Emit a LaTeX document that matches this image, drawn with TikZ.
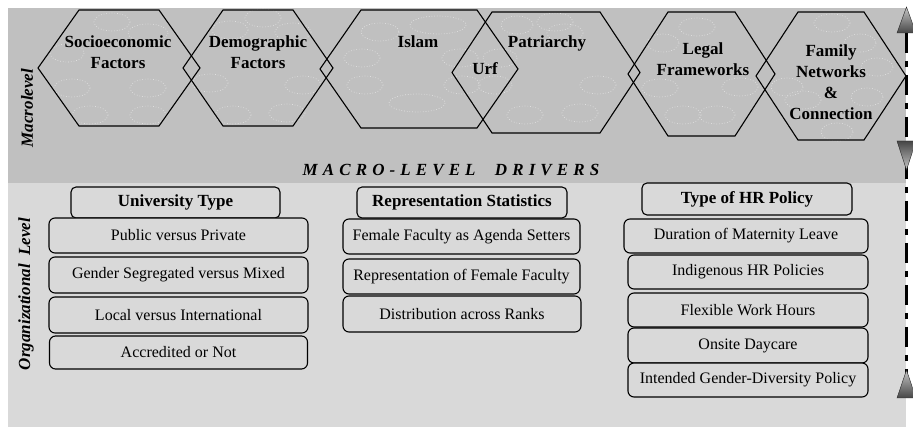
\documentclass[tikz,border=0pt]{standalone}
\usepackage{fontspec}
\setmainfont{Liberation Serif}
\definecolor{topgray}{HTML}{C0C0C0}
\definecolor{lowgray}{HTML}{D9D9D9}
\tikzset{
  hexline/.style={draw=black, line width=1.1pt, line join=miter},
  hexlabel/.style={font=\fontsize{17}{21}\selectfont\bfseries, align=center, inner sep=0pt},
  texture/.style={draw=white, dotted, line width=0.7pt, opacity=0.55},
  headbox/.style={draw=black, line width=1.1pt, rounded corners=5pt, fill=lowgray,
    font=\fontsize{17}{20}\selectfont\bfseries, inner sep=0pt, minimum height=31pt},
  itembox/.style={draw=black, line width=1.1pt, rounded corners=6pt, fill=lowgray,
    font=\fontsize{16}{19}\selectfont, inner sep=0pt},
  sidelabel/.style={rotate=90, font=\fontsize{17}{20}\selectfont\bfseries\itshape, inner sep=0pt},
  axisline/.style={line width=2.5pt, dash pattern=on 20pt off 8pt on 6pt off 8pt},
  uptri/.style={draw=gray!30!black, line width=0.4pt, top color=gray!45, bottom color=gray!55!black},
  downtri/.style={draw=gray!30!black, line width=0.4pt, top color=gray!55!black, bottom color=gray!45},
}
\newcommand\hexshape[5]{% left right top bottom inset
  \draw[hexline] (#1,{(#3+#4)/2}) -- ({#1+#5},#3) -- ({#2-#5},#3) -- (#2,{(#3+#4)/2})
    -- ({#2-#5},#4) -- ({#1+#5},#4) -- cycle;}
\newcommand\blob[3]{\draw[texture] (#1,#2) ellipse [x radius=#3, y radius=9];}
\begin{document}
\begin{tikzpicture}[x=1pt,y=-1pt]
\useasboundingbox (0,0) rectangle (913,427);
\fill[white] (0,0) rectangle (913,427);
\fill[topgray] (8,8) rectangle (906,183);
\fill[lowgray] (8,183) rectangle (906,427);

% texture
\foreach \x/\y/\r in {112/22/18,148/33/20,67/53/17,72/88/18,148/88/18,90/115/18,148/115/18,
  263/18/18,230/30/18,293/32/18,210/83/18,303/85/18,233/115/18,287/113/18,
  380/32/19,438/25/28,362/58/18,365/85/18,417/103/28,460/58/18,462/85/18,500/58/17,495/85/17,
  517/25/16,555/22/18,565/33/18,598/85/18,525/115/18,580/113/18,
  697/27/18,663/43/16,660/88/18,740/87/18,683/115/18,717/115/18,
  832/23/18,860/43/16,877/67/16,787/87/16,803/100/18,867/97/16,837/132/16}
  {\blob{\x}{\y}{\r}}

% hexagons
\hexshape{38}{200}{10}{126}{41}
\hexshape{183}{333}{10}{126}{40}
\hexshape{320}{518}{10}{128}{41}
\hexshape{452}{640}{12}{133}{40}
\hexshape{628}{775}{12}{136}{40}
\hexshape{756}{906}{12}{140}{42}

\node[hexlabel] (socio) at (118,52.5) {Socioeconomic\\Factors};
\node[hexlabel] (demo) at (258,52.5) {Demographic\\Factors};
\node[hexlabel] (islam) at (418,42) {Islam};
\node[hexlabel] (urf) at (485,69) {Urf};
\node[hexlabel] (patri) at (547,43) {Patriarchy};
\node[hexlabel] (legal) at (703,59) {Legal\\Frameworks};
\node[hexlabel] (family) at (831,82) {Family\\Networks\\\&\\Connection};

\node[sidelabel] (macro) at (27,108) {Macrolevel};
\node[sidelabel] (org) at (26,294) {Organizational\ \ Level};

\node[font=\fontsize{17}{20}\selectfont\bfseries\itshape\addfontfeature{LetterSpace=30}, inner sep=0pt]
  (drivers) at (451,170) {MACRO-LEVEL\hspace{10pt} DRIVERS};

% University type
\node[headbox, minimum width=209pt] (uhead) at (175.5,202.5) {University Type};
\node[itembox, minimum width=259pt, minimum height=35pt] (u1) at (178.5,235.5) {Public versus Private};
\node[itembox, minimum width=259pt, minimum height=36pt] (u2) at (178.5,275) {Gender Segregated versus Mixed};
\node[itembox, minimum width=259pt, minimum height=36pt] (u3) at (178.5,315) {Local versus International};
\node[itembox, minimum width=258pt, minimum height=33pt] (u4) at (178.5,352.5) {Accredited or Not};

% Representation
\node[headbox, minimum width=210pt] (rhead) at (462,202.5) {Representation Statistics};
\node[itembox, minimum width=237pt, minimum height=35pt] (r1) at (461.5,236.5) {Female Faculty as Agenda Setters};
\node[itembox, minimum width=237pt, minimum height=35pt] (r2) at (461.5,276.5) {Representation of Female Faculty};
\node[itembox, minimum width=238pt, minimum height=36pt] (r3) at (462,314) {Distribution across Ranks};

% HR policy
\node[headbox, minimum width=210pt, minimum height=32pt] (hhead) at (747,199) {Type of HR Policy};
\node[itembox, minimum width=244pt, minimum height=34pt] (h1) at (746,236) {Duration of Maternity Leave};
\node[itembox, minimum width=240pt, minimum height=34pt] (h2) at (748,272) {Indigenous HR Policies};
\node[itembox, minimum width=240pt, minimum height=34pt] (h3) at (748,310) {Flexible Work Hours};
\node[itembox, minimum width=240pt, minimum height=35pt] (h4) at (748,345.5) {Onsite Daycare};
\node[itembox, minimum width=240pt, minimum height=34pt] (h5) at (748,380) {Intended Gender-Diversity Policy};

% right axis
\coordinate (atop) at (906.5,33);
\coordinate (abot) at (906.5,398);
\draw[axisline] (atop) -- (abot);
\draw[uptri] (906.5,7) -- (916,33) -- (897,33) -- cycle;
\draw[downtri] (897,141) -- (916,141) -- (906.5,170) -- cycle;
\draw[uptri] (906.5,370) -- (916,398) -- (897,398) -- cycle;
\end{tikzpicture}
\end{document}
